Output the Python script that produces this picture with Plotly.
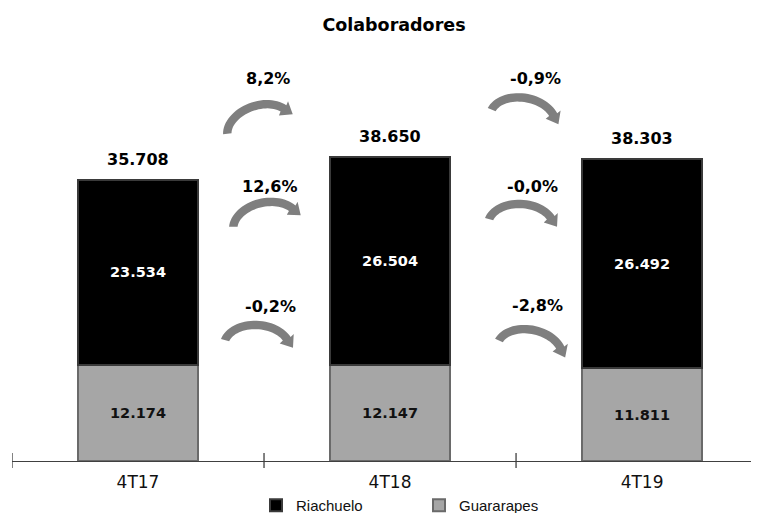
import math
import plotly.graph_objects as go

# ---------------- data ----------------
categories = ["4T17", "4T18", "4T19"]
riachuelo = [23534, 26504, 26492]
guararapes = [12174, 12147, 11811]
totals = [35708, 38650, 38303]
title_text = "Colaboradores"
series_names = ["Riachuelo", "Guararapes"]

x_pos = list(range(len(categories)))


def pct(new, old):
    v = (new / old - 1) * 100
    return f"{v:.1f}".replace(".", ",") + "%"


# growth between consecutive quarters
growth_series = [totals, riachuelo, guararapes]

# ---------------- styles ----------------
FONT_V = "DejaVu Sans"
FONT_A = "Liberation Sans"
ARROW_COLOR = "#7f7f7f"
W, H = 751, 505  # page has an 8px body margin

# arrow placement (pixel offsets from boundary between bars / from axis), rotation deg
arrow_style = {
    # (boundary index, series index): (dx, up, rot, label_dx, label_up)
    (0, 0): (-4, 337, 19, 4, 383),
    (0, 1): (3, 240, 12, 6, 275),
    (0, 2): (-5, 117, -4, 6, 155),
    (1, 0): (9, 344, -10, 19, 383),
    (1, 1): (7, 238, -4, 16, 275),
    (1, 2): (16, 112, -12, 21, 156),
}


def arrow_path(rot_deg):
    rx, ry, th = 33.0, 22.0, 8.5
    t0, t1 = math.radians(168), math.radians(28)
    n = 30
    outer, inner = [], []
    for i in range(n + 1):
        t = t0 + (t1 - t0) * i / n
        outer.append(((rx + th / 2) * math.cos(t), (ry + th / 2) * math.sin(t)))
        inner.append(((rx - th / 2) * math.cos(t), (ry - th / 2) * math.sin(t)))
    mx, my = rx * math.cos(t1), ry * math.sin(t1)
    tx, ty = rx * math.sin(t1), -ry * math.cos(t1)
    tl = math.hypot(tx, ty)
    tx, ty = tx / tl, ty / tl
    nx, ny = -ty, tx
    hw, hl = 8.5, 11.0
    h1 = (mx + nx * hw, my + ny * hw)
    h2 = (mx - nx * hw, my - ny * hw)
    tip = (mx + tx * hl, my + ty * hl)
    pts = outer + [h1, tip, h2] + inner[::-1]
    left = ((outer[0][0] + inner[0][0]) / 2, (outer[0][1] + inner[0][1]) / 2)
    cx, cy = (left[0] + tip[0]) / 2, (left[1] + tip[1]) / 2
    r = math.radians(rot_deg)
    out = []
    for px, py in pts:
        px, py = px - cx, py - cy
        qx = px * math.cos(r) - py * math.sin(r)
        qy = px * math.sin(r) + py * math.cos(r)
        out.append((qx, qy))
    return out


fig = go.Figure()

fig.add_trace(go.Bar(
    x=x_pos, y=guararapes, name=series_names[1],
    marker=dict(color="#a6a6a6", line=dict(color="#6a6a6a", width=2)),
    texttemplate="<b>%{y:,.0f}</b>", textposition="inside",
    insidetextanchor="middle",
    textfont=dict(family=FONT_V, size=14.5, color="#111111"),
    hoverinfo="skip",
))
fig.add_trace(go.Bar(
    x=x_pos, y=riachuelo, name=series_names[0],
    marker=dict(color="#000000", line=dict(color="#3a3a3a", width=2)),
    texttemplate="<b>%{y:,.0f}</b>", textposition="inside",
    insidetextanchor="middle",
    textfont=dict(family=FONT_V, size=14.5, color="#ffffff"),
    hoverinfo="skip",
))

annotations = []
for i, t in enumerate(totals):
    annotations.append(dict(
        x=x_pos[i], y=t, xref="x", yref="y",
        text="<b>" + f"{t:,}".replace(",", ".") + "</b>",
        showarrow=False, yanchor="bottom", yshift=9,
        font=dict(family=FONT_V, size=16, color="#000000"),
    ))

shapes = []
for b in range(len(categories) - 1):
    for s, ser in enumerate(growth_series):
        dx, up, rot, ldx, lup = arrow_style[(b, s)]
        pts = arrow_path(rot)
        path = "M " + " L ".join(f"{px + dx:.2f},{py + up:.2f}" for px, py in pts) + " Z"
        shapes.append(dict(
            type="path", xref="x", yref="y",
            xsizemode="pixel", ysizemode="pixel",
            xanchor=b + 0.5, yanchor=0,
            path=path, fillcolor=ARROW_COLOR, line=dict(width=0),
            layer="above",
        ))
        annotations.append(dict(
            x=b + 0.5, y=0, xref="x", yref="y",
            xshift=ldx, yshift=lup,
            text="<b>" + pct(ser[b + 1], ser[b]) + "</b>",
            showarrow=False, yanchor="middle",
            font=dict(family=FONT_V, size=16, color="#000000"),
        ))

# boundary tick marks crossing the axis
for b in range(len(categories)):
    shapes.append(dict(
        type="line", xref="x", yref="paper",
        ysizemode="pixel", yanchor=0,
        x0=b - 0.5, x1=b - 0.5, y0=-7, y1=8,
        line=dict(color="#404040", width=1.3),
    ))

fig.update_layout(
    width=W, height=H,
    margin=dict(l=4, r=0, t=52, b=52, autoexpand=False),
    paper_bgcolor="white", plot_bgcolor="white",
    barmode="stack", bargap=0.524,
    separators=",.",
    title=dict(text="<b>" + title_text + "</b>", x=386 / W, xanchor="center",
               y=1 - 17 / H, yanchor="middle", xref="container", yref="container",
               font=dict(family=FONT_V, size=17.5, color="#000000")),
    xaxis=dict(
        tickmode="array", tickvals=x_pos, ticktext=categories,
        range=[-0.5, 2.464], showgrid=False, zeroline=False,
        showline=True, linecolor="#404040", linewidth=1.3,
        ticks="", ticklabelstandoff=5,
        tickfont=dict(family=FONT_V, size=17, color="#111111"),
        fixedrange=True,
    ),
    yaxis=dict(range=[0, 50927], visible=False, fixedrange=True),
    showlegend=True,
    legend=dict(
        orientation="h", x=(248 - 4) / 747, xanchor="left",
        yref="container", y=1 - 481 / H, yanchor="top", traceorder="reversed",
        entrywidth=118, entrywidthmode="pixels",
        font=dict(family=FONT_A, size=15, color="#111111"),
        bgcolor="rgba(0,0,0,0)",
    ),
    annotations=annotations, shapes=shapes,
)

fig.write_html("out.html")
